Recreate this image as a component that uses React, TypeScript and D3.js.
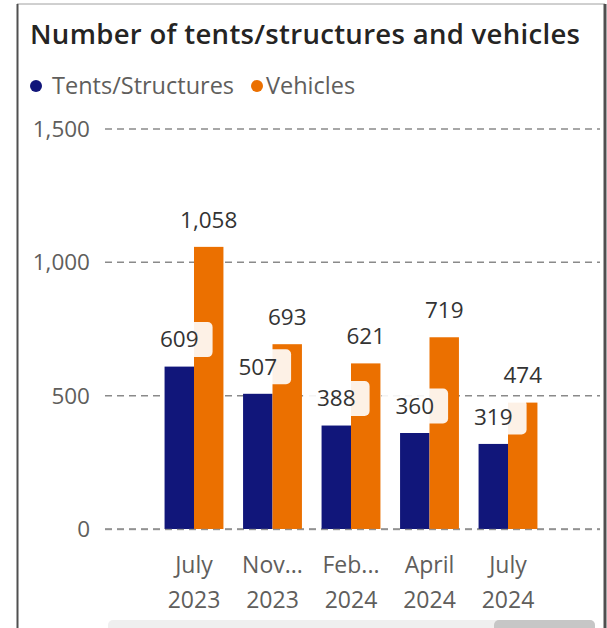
import React from "react";
import * as d3 from "d3";

const categories = ["July|2023", "Nov...|2023", "Feb...|2024", "April|2024", "July|2024"];
const seriesNames = ["Tents/Structures", "Vehicles"];
const tents = [609, 507, 388, 360, 319];
const vehicles = [1058, 693, 621, 719, 474];
const yTicks = [0, 500, 1000, 1500];

const COLORS = ["#11167A", "#EB7000"];
const FONT = "'Segoe UI', 'Open Sans', sans-serif";
const W = 607;
const H = 628;

export default function App() {
  const y = d3.scaleLinear().domain([0, 1500]).range([529, 129]);
  const x = d3
    .scaleBand<string>()
    .domain(categories)
    .range([154.75, 547.25])
    .paddingInner(0.25)
    .paddingOuter(0.125);
  const xs = d3.scaleBand<string>().domain(seriesNames).range([0, x.bandwidth()]);
  const fmt = d3.format(",");
  const series = [tents, vehicles];
  const labelFs = 22.5;
  const textW = (s: string) =>
    s.split("").reduce((a, c) => a + (c === "," ? 0.25 : 0.572) * labelFs, 0);

  return (
    <div style={{ position: "fixed", left: 0, top: 0 }}>
      <svg width={W} height={H} style={{ display: "block", fontFamily: FONT }}>
        <rect x={0} y={0} width={W} height={H} fill="#ffffff" />
        {/* frame */}
        <line x1={17} x2={605} y1={4} y2={4} stroke="#a0a0a0" strokeWidth={1} />
        <line x1={17.5} x2={17.5} y1={4} y2={H} stroke="#505050" strokeWidth={2} />
        <line x1={605} x2={605} y1={4} y2={H} stroke="#505050" strokeWidth={3} />

        {/* title */}
        <text
          x={30}
          y={44}
          fontSize={27.5}
          fontWeight={600}
          fill="#252423"
          textLength={550}
          lengthAdjust="spacing"
        >
          Number of tents/structures and vehicles
        </text>

        {/* legend */}
        <circle cx={36} cy={86} r={6} fill={COLORS[0]} />
        <text x={52} y={94} fontSize={23.5} fill="#605E5C">
          {seriesNames[0]}
        </text>
        <circle cx={257} cy={86} r={6} fill={COLORS[1]} />
        <text x={266} y={94} fontSize={23.5} fill="#605E5C">
          {seriesNames[1]}
        </text>

        {/* gridlines */}
        {yTicks.map((t) => (
          <g key={t}>
            <line
              x1={105}
              x2={600}
              y1={y(t)}
              y2={y(t)}
              stroke="#8a8a8a"
              strokeWidth={1.5}
              strokeDasharray="7 5"
            />
            <text
              x={90}
              y={y(t)}
              dy="0.35em"
              textAnchor="end"
              fontSize={22.5}
              fill="#605E5C"
            >
              {fmt(t)}
            </text>
          </g>
        ))}

        {/* bars */}
        {categories.map((c, i) => (
          <g key={c} transform={`translate(${x(c)},0)`}>
            {series.map((s, j) => (
              <rect
                key={j}
                x={xs(seriesNames[j])}
                y={y(s[i])}
                width={xs.bandwidth()}
                height={y(0) - y(s[i])}
                fill={COLORS[j]}
              />
            ))}
          </g>
        ))}

        {/* zero line on top */}
        <line
          x1={105}
          x2={600}
          y1={y(0) + 0.5}
          y2={y(0) + 0.5}
          stroke="#8a8a8a"
          strokeWidth={1.5}
          strokeDasharray="7 5"
          opacity={0.7}
        />

        {/* data labels */}
        {categories.map((c, i) =>
          series.map((s, j) => {
            const cx = (x(c) as number) + (xs(seriesNames[j]) as number) + xs.bandwidth() / 2;
            const cy = y(s[i]) - 27;
            const label = fmt(s[i]);
            const tw = textW(label);
            return (
              <g key={`${c}-${j}`}>
                <rect
                  x={cx - tw / 2 - 14}
                  y={cy - 17.5}
                  width={tw + 28}
                  height={35}
                  rx={5}
                  fill="#ffffff"
                  opacity={0.9}
                />
                <text
                  x={cx}
                  y={cy}
                  dy="0.35em"
                  textAnchor="middle"
                  fontSize={labelFs}
                  fill="#333333"
                >
                  {label}
                </text>
              </g>
            );
          })
        )}

        {/* x axis labels */}
        {categories.map((c) => {
          const [l1, l2] = c.split("|");
          const cx = (x(c) as number) + x.bandwidth() / 2;
          return (
            <text key={c} x={cx} textAnchor="middle" fontSize={23} fill="#605E5C">
              <tspan x={cx} y={573}>
                {l1}
              </tspan>
              <tspan x={cx} y={608}>
                {l2}
              </tspan>
            </text>
          );
        })}

        {/* scrollbar */}
        <rect x={108} y={620} width={487} height={14} rx={5} fill="#EFEFEF" />
        <rect x={494} y={620} width={101} height={14} rx={5} fill="#C6C6C6" />
      </svg>
    </div>
  );
}
